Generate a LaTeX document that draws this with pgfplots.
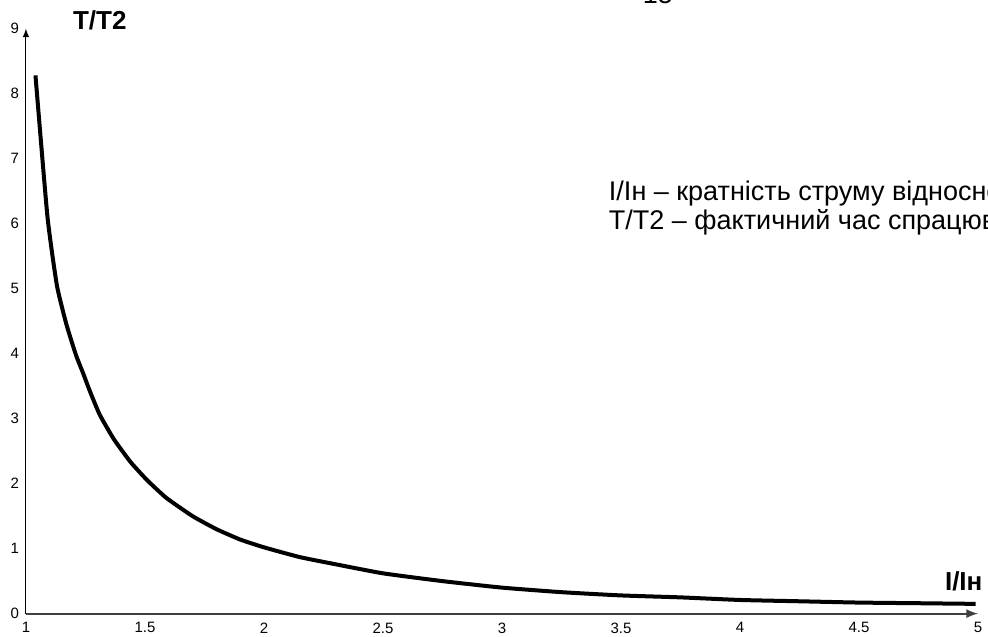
\documentclass[border=0pt]{standalone}
\usepackage{fontspec}
\setmainfont{Liberation Sans}
\usepackage{pgfplots}
\pgfplotsset{compat=1.18}

\pgfplotstableread{
x     y
1.04  8.28
1.09  6.12
1.13  5.05
1.17  4.45
1.21  3.98
1.24  3.70
1.27  3.41
1.31  3.06
1.37  2.68
1.44  2.33
1.51  2.05
1.59  1.78
1.70  1.50
1.80  1.30
1.90  1.14
2.00  1.02
2.15  0.87
2.30  0.76
2.50  0.62
2.75  0.50
3.00  0.40
3.25  0.33
3.50  0.28
3.75  0.25
4.00  0.21
4.25  0.19
4.50  0.17
4.75  0.16
4.99  0.15
}\curve

\begin{document}
\begin{tikzpicture}
\begin{axis}[
  scale only axis, width=476bp, height=292.5bp,
  xmin=1, xmax=5, ymin=0, ymax=9,
  axis lines=left, clip=false,
  x axis line style={-latex, line width=1bp, black!75},
  y axis line style={-latex, line width=0.5bp, black},
  xtick={1,1.5,...,5}, ytick={0,1,...,9},
  major tick length=0pt,
  ticklabel style={font=\fontsize{7.5bp}{9bp}\selectfont},
  xticklabel style={yshift=-1bp},
  /pgf/number format/assume math mode=true,
]
\addplot[black, line width=2bp, smooth, tension=0.3] table[x=x, y=y] {\curve};
\node[font=\fontsize{13bp}{15bp}\selectfont\bfseries] at (axis cs:1.31,9.13) {T/T2};
\node[font=\fontsize{13bp}{15bp}\selectfont\bfseries] at (axis cs:4.94,0.5) {I/Iн};
\node[anchor=west, font=\fontsize{13.5bp}{15bp}\selectfont] at (axis cs:3.42,6.47) {I/Iн – кратність струму відносно номінального};
\node[anchor=west, font=\fontsize{13.5bp}{15bp}\selectfont] at (axis cs:3.42,6.02) {T/T2 – фактичний час спрацювання};
\node[font=\fontsize{13.5bp}{15bp}\selectfont] at (axis cs:3.655,9.52) {15};
\coordinate (bl) at (axis cs:0.891,-0.346);
\coordinate (tr) at (axis cs:5.042,9.44);
\end{axis}
\pgfresetboundingbox
\useasboundingbox (bl) rectangle (tr);
\end{tikzpicture}
\end{document}
